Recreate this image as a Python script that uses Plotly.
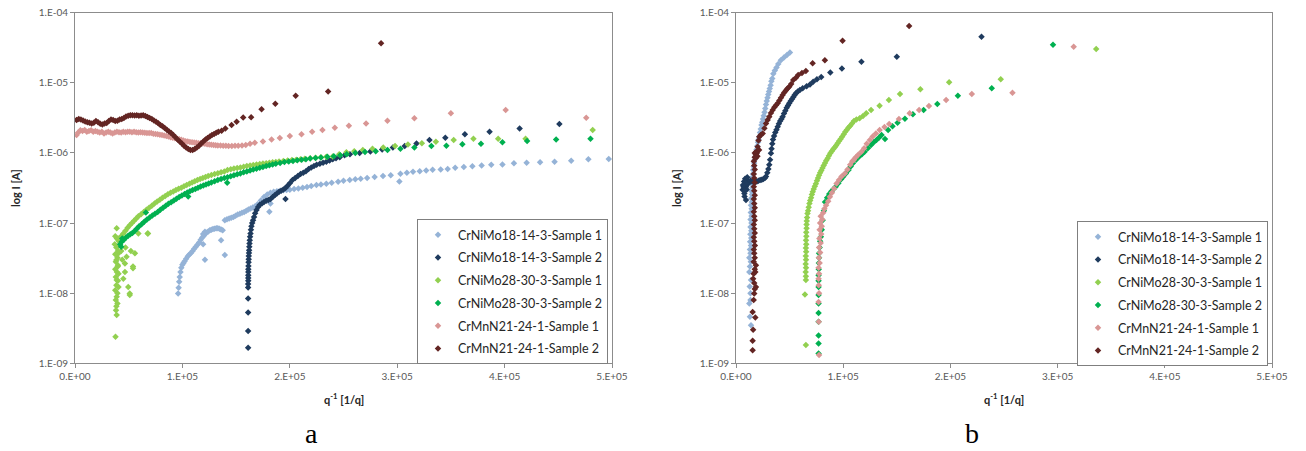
import plotly.graph_objects as go

W, H = 1306, 451
X_UNIT = 1e3  # x values in the point lists are given in thousands of 1/q


def fx(px):
    return px / W


def fy(py):
    return 1 - py / H


SERIES = ["CrNiMo18-14-3-Sample 1", "CrNiMo18-14-3-Sample 2",
          "CrNiMo28-30-3-Sample 1", "CrNiMo28-30-3-Sample 2",
          "CrMnN21-24-1-Sample 1", "CrMnN21-24-1-Sample 2"]
COLORS = ["#95B3D7", "#1F3B5E", "#92D050", "#00B050", "#D99694", "#632523"]

X_TICKS = [0, 1e5, 2e5, 3e5, 4e5, 5e5]
X_TICKTEXT = ["0.E+00", "1.E+05", "2.E+05", "3.E+05", "4.E+05", "5.E+05"]
Y_TICKS = [1e-9, 1e-8, 1e-7, 1e-6, 1e-5, 1e-4]
Y_TICKTEXT = ["1.E-09", "1.E-08", "1.E-07", "1.E-06", "1.E-05", "1.E-04"]

# ---------------- panel a ----------------
A_LB = [(96,9.9e-9),(96.5,1.2e-8),(97,1.45e-8),(97.5,1.7e-8),(98.2,2.0e-8),(99,2.3e-8),(100,2.55e-8),(101,2.7e-8),
        (102,2.85e-8),(103.5,3.1e-8),(105,3.35e-8),(106.5,3.55e-8),(108,3.75e-8),(109.5,4.0e-8),(111,4.3e-8),
        (112.5,4.6e-8),(114,4.9e-8),(115.5,5.3e-8),(117,5.8e-8),(118.5,6.2e-8),(119.3,5.0e-8),(119.3,7.0e-8),
        (120,6.6e-8),(121,7.5e-8),(122.5,7.3e-8),(124,7.6e-8),(125.5,7.9e-8),(127,8.0e-8),(128.5,8.2e-8),(130,8.3e-8),
        (131.5,8.4e-8),(133,8.4e-8),(134.5,8.3e-8),(136,8.1e-8),(137.5,7.9e-8),(139.5,1.1e-7),(141.5,1.13e-7),
        (143.5,1.16e-7),(145.5,1.19e-7),(147.5,1.22e-7),(149.5,1.27e-7),(151.5,1.32e-7),(153.5,1.36e-7),(155.5,1.4e-7),
        (157.5,1.44e-7),(159.5,1.5e-7),(161.5,1.56e-7),(163.5,1.61e-7),(165.5,1.67e-7),(167.5,1.72e-7),(170,1.85e-7),
        (173,2.1e-7),(176,2.35e-7),(179,2.55e-7),(182,2.7e-7),(185,2.8e-7),(188,2.85e-7),(191,2.9e-7),(194,2.93e-7),
        (197,2.95e-7),(200,2.98e-7),(204,3.05e-7),(208,3.12e-7),(212,3.2e-7),(216,3.28e-7),(220,3.38e-7),(224.8,3.48e-7),
        (229,3.55e-7),(234,3.65e-7),(239,3.75e-7),(245,3.88e-7),(250,4.0e-7),(255.8,4.1e-7),(261,4.2e-7),(266,4.3e-7),
        (272,4.4e-7),(279,4.52e-7),(286.8,4.68e-7),(294,4.8e-7),(303,5.05e-7),(309,5.2e-7),(314.7,5.4e-7),(321,5.5e-7),
        (327,5.62e-7),(333,5.75e-7),(340.5,5.8e-7),(347,5.9e-7),(354,6.15e-7),(362,6.3e-7),(370,6.44e-7),(378.6,6.6e-7),
        (387.6,6.8e-7),(398,6.85e-7),(408.7,7.1e-7),(420.5,7.25e-7),(433,7.35e-7),(446.5,7.5e-7),(462,7.75e-7),
        (478,8.1e-7),(497,8.2e-7),(302,3.9e-7),(121,3.0e-8),(139.5,3.5e-8),(136,5.7e-8),(181,1.45e-7),(182,1.9e-7)]

A_NV = [(161.2,1.66e-9),(161.2,2.88e-9),(161.2,5.3e-9),(161.2,8.4e-9),(161.2,1.21e-8),
        (161.2,1.35e-8),(161.3,1.5e-8),(161.3,1.65e-8),(161.3,1.8e-8),(161.4,2.0e-8),(161.4,2.2e-8),(161.5,2.45e-8),
        (161.6,2.75e-8),(161.7,3.05e-8),(161.8,3.4e-8),(162,3.75e-8),(162.1,4.1e-8),(162.3,4.6e-8),(162.5,5.1e-8),
        (162.7,5.7e-8),(163,6.4e-8),(163.4,7.1e-8),(163.8,8.0e-8),(164.3,9.0e-8),(165,1.0e-7),(165.8,1.1e-7),
        (166.7,1.22e-7),(167.7,1.38e-7),(169,1.53e-7),(170.5,1.7e-7),(172,1.82e-7),
        (174,1.9e-7),(176,2.0e-7),(178,2.08e-7),(180,2.13e-7),(182,2.2e-7),(184,2.35e-7),(186,2.5e-7),(188,2.65e-7),
        (190,2.8e-7),(192,2.9e-7),(194,3.0e-7),(196,3.15e-7),(198,3.4e-7),(200,3.7e-7),(202.5,4.1e-7),(205,4.4e-7),
        (207.5,4.7e-7),(210,5.0e-7),(212.5,5.2e-7),(215,5.5e-7),(217.5,5.9e-7),(220,6.2e-7),(222.5,6.5e-7),
        (225,6.8e-7),(228,7.0e-7),(231,7.25e-7),(234,7.5e-7),(237,7.8e-7),(240,8.1e-7),(243,8.4e-7),(246.5,8.7e-7),
        (251,9.3e-7),(256,9.6e-7),(265,1.0e-6),(275,1.05e-6),(286,1.12e-6),(296,1.2e-6),(307,1.26e-6),(318,1.36e-6),
        (330,1.53e-6),(344.8,1.65e-6),(363,1.84e-6),(386,2.0e-6),(414,2.24e-6),(451,2.58e-6),(196,2.2e-7)]

A_LG = [(37.7,2.4e-9),(38.8,4.9e-9),(38.2,5.7e-9),(39.5,7.1e-9),(38.5,6.5e-9),(38,8.0e-9),(38.8,8.9e-9),(39.5,1.0e-8),
        (37.5,1.1e-8),(40.5,1.23e-8),(38.5,1.3e-8),(40,1.5e-8),(38.8,1.54e-8),(38,1.7e-8),(40.5,1.9e-8),(39,2.0e-8),
        (37.5,2.2e-8),(39.8,2.4e-8),(40,2.5e-8),(38,2.8e-8),(38.5,2.97e-8),(39.5,3.2e-8),(37.5,3.6e-8),(40.5,3.7e-8),
        (40,4.0e-8),(38.5,4.5e-8),(39.8,4.6e-8),(37,5.0e-8),(41,5.5e-8),(40.5,5.7e-8),(39,6.0e-8),(37.5,6.5e-8),
        (38.8,8.4e-8),
        (46.5,2.0e-8),(49.6,1.23e-8),(51,9.9e-9),(54,2.4e-8),(55.8,3.7e-8),(59,7.1e-8),(68,7.1e-8),(46.5,2.66e-8),
        (51,9.4e-9),(54,2.26e-8),(44,3.0e-8),(47,4.5e-8),(52,4.0e-8),(45,1.6e-8),(43,4.0e-8),(48,3.3e-8),(67.6,7.1e-8),
        (41,6.0e-8),(43,6.5e-8),(45,7.1e-8),(47,7.8e-8),(49,8.6e-8),(51,9.3e-8),(53,1.0e-7),(55,1.08e-7),(57,1.16e-7),
        (59,1.25e-7),(61.5,1.34e-7),(64,1.44e-7),(66.5,1.55e-7),(69,1.65e-7),(71.5,1.77e-7),(74,1.9e-7),(76.5,2.03e-7),
        (79,2.15e-7),(81.5,2.3e-7),(84,2.43e-7),(86.5,2.58e-7),(89,2.7e-7),(91.5,2.83e-7),(94,2.95e-7),(96.5,3.08e-7),
        (99,3.2e-7),(101.5,3.35e-7),(104,3.5e-7),(106.5,3.65e-7),(109,3.8e-7),(111.5,3.95e-7),(114,4.1e-7),
        (116.5,4.25e-7),(119,4.4e-7),(121.5,4.55e-7),(124,4.7e-7),(127,4.85e-7),(130,5.0e-7),(133,5.15e-7),
        (136,5.3e-7),(139,5.45e-7),(142,5.7e-7),(145,5.85e-7),(148,6.0e-7),(151,6.1e-7),(154,6.2e-7),(157,6.35e-7),
        (160,6.5e-7),(163,6.6e-7),(166,6.75e-7),(169,6.85e-7),(172,6.95e-7),(175,7.05e-7),(178,7.15e-7),(181,7.25e-7),
        (184,7.35e-7),(187,7.45e-7),(190,7.55e-7),(194,7.7e-7),(198,7.8e-7),(202,7.9e-7),(206,8.0e-7),(210,8.1e-7),
        (214,8.25e-7),(219,8.4e-7),(224,8.55e-7),(229,8.7e-7),(234,8.8e-7),(240,8.9e-7),(246,9.6e-7),
        (252.7,1.02e-6),(260,1.06e-6),(268,1.1e-6),(277,1.15e-6),(287,1.2e-6),(298,1.26e-6),(310,1.32e-6),
        (323,1.38e-6),(336,1.44e-6),(352.6,1.53e-6),(371,1.6e-6),(394,1.6e-6),(419.5,1.6e-6),(482,2.12e-6)]

A_DG = [(42,5.0e-8),(43,4.6e-8),(44,6.0e-8),
        (43.5,5.4e-8),(45.5,5.8e-8),(47.5,6.2e-8),(49.5,6.6e-8),(51.5,6.9e-8),(53.5,7.2e-8),(55.5,7.7e-8),(57.5,8.3e-8),
        (59.5,8.9e-8),(62,9.6e-8),(64.5,1.04e-7),(67,1.12e-7),(69.5,1.2e-7),(72,1.28e-7),(74.5,1.36e-7),(77,1.44e-7),
        (79.5,1.55e-7),(82,1.66e-7),(84.5,1.77e-7),(87,1.88e-7),(89.5,1.98e-7),(92,2.1e-7),(94.5,2.22e-7),
        (97,2.35e-7),(99.5,2.48e-7),(102,2.6e-7),(104.5,2.72e-7),(107,2.84e-7),(109.5,2.95e-7),(112,3.07e-7),
        (114.5,3.2e-7),(117,3.32e-7),(119.5,3.43e-7),(122,3.55e-7),(124.5,3.67e-7),(127,3.8e-7),(130,3.95e-7),
        (133,4.1e-7),(136,4.25e-7),(139,4.38e-7),(142,4.5e-7),(145,4.65e-7),(148,4.8e-7),(151,4.95e-7),(154,5.1e-7),
        (157,5.3e-7),(160,5.45e-7),(163,5.6e-7),(166,5.8e-7),(169,5.95e-7),(172,6.15e-7),(175,6.3e-7),(178,6.5e-7),
        (181,6.65e-7),(184,6.85e-7),(187,7.0e-7),(191,7.2e-7),(195,7.4e-7),(199,7.55e-7),(203,7.7e-7),(207,7.85e-7),
        (211,8.0e-7),(215,8.15e-7),(219,8.3e-7),(224,8.45e-7),(229,8.6e-7),(235,8.8e-7),(241,9.0e-7),
        (247,9.3e-7),(253,9.6e-7),(261,1.0e-6),(270,1.03e-6),(280,1.06e-6),(291,1.1e-6),(303,1.15e-6),(316,1.2e-6),
        (331.8,1.26e-6),(345.8,1.27e-6),(360.7,1.33e-6),(378,1.35e-6),(398,1.42e-6),(421,1.48e-6),(448,1.56e-6),
        (480,1.6e-6),(66,1.42e-7),(105.4,2.4e-7),(141.7,3.76e-7)]

A_PK = [(1.5,1.8e-6),(3,1.95e-6),(5,2.1e-6),(7,2.05e-6),(9,2.12e-6),(11,2.0e-6),(13,2.05e-6),(15,2.1e-6),(17,2.0e-6),
        (19,2.05e-6),(21,2.0e-6),(23,1.95e-6),(25,2.0e-6),(27,1.9e-6),(29,1.95e-6),(31,2.0e-6),(33,1.95e-6),(35,1.9e-6),
        (37,1.95e-6),(39,2.0e-6),(41,1.98e-6),(43,1.95e-6),(45,2.0e-6),(47,1.98e-6),(49,2.0e-6),(51,2.0e-6),
        (53,1.98e-6),(55,2.0e-6),(57,1.97e-6),(59,1.95e-6),(61,1.97e-6),(63,1.95e-6),(65,1.94e-6),(67,1.92e-6),
        (69,1.93e-6),(71,1.92e-6),(73,1.88e-6),(75,1.86e-6),(77,1.84e-6),(79,1.82e-6),(81,1.8e-6),(83,1.78e-6),
        (85,1.75e-6),(87,1.72e-6),(89,1.68e-6),(91,1.65e-6),(93,1.62e-6),(95,1.6e-6),(97,1.57e-6),(99,1.54e-6),
        (101,1.5e-6),(103,1.47e-6),(105,1.45e-6),(107,1.43e-6),(109,1.42e-6),(111,1.41e-6),(113,1.4e-6),
        (115,1.38e-6),(117,1.37e-6),(119,1.36e-6),(121,1.35e-6),(123,1.33e-6),(125,1.32e-6),(127,1.31e-6),
        (129,1.3e-6),(131,1.29e-6),(133,1.28e-6),(135.5,1.28e-6),(138,1.27e-6),(140.5,1.27e-6),(143,1.26e-6),
        (146,1.26e-6),(149,1.27e-6),(152,1.27e-6),(155.5,1.28e-6),(159,1.3e-6),(163,1.35e-6),(167.4,1.4e-6),
        (175,1.45e-6),(183,1.56e-6),(190.7,1.64e-6),(200,1.74e-6),(210.9,1.84e-6),(220.8,2.0e-6),(230.4,2.12e-6),
        (241.9,2.29e-6),(255,2.45e-6),(271,2.64e-6),(290.9,2.88e-6),(316,3.12e-6),(350,3.67e-6),(401,4.09e-6),
        (476,3.18e-6)]

A_BR = [(1.5,2.95e-6),(3.5,3.05e-6),(5.5,3.0e-6),(7.5,2.9e-6),(9.5,2.8e-6),(11.5,2.75e-6),(13.5,2.7e-6),
        (15.5,2.62e-6),(17.5,2.7e-6),(19.5,2.85e-6),(21.5,2.75e-6),(23.5,2.6e-6),(25.5,2.55e-6),(27.5,2.62e-6),
        (29.5,2.68e-6),(31.5,2.85e-6),(33.5,3.0e-6),(35.5,2.95e-6),(37.5,2.85e-6),(39.5,2.88e-6),(41.5,3.0e-6),
        (43.5,3.05e-6),(45.5,3.15e-6),(47.5,3.3e-6),(49.5,3.38e-6),(51.5,3.45e-6),(53.5,3.45e-6),(55.5,3.42e-6),
        (57.5,3.45e-6),(59.5,3.4e-6),(61.5,3.42e-6),(63.5,3.45e-6),(65.5,3.35e-6),(67.5,3.25e-6),(69.5,3.15e-6),
        (71.5,3.05e-6),(73.5,2.9e-6),(75.5,2.78e-6),(77.5,2.65e-6),(79.5,2.5e-6),(81.5,2.4e-6),(83.5,2.27e-6),
        (85.5,2.15e-6),(87.5,2.02e-6),(89.5,1.92e-6),(91.5,1.8e-6),(93.5,1.68e-6),(95.5,1.55e-6),(97.5,1.45e-6),
        (99.5,1.36e-6),(101.5,1.27e-6),(103.5,1.2e-6),(105.5,1.14e-6),(107.5,1.1e-6),(109.5,1.1e-6),(111.5,1.14e-6),
        (113.5,1.2e-6),(115.5,1.27e-6),(117.5,1.36e-6),(119.5,1.45e-6),(121.5,1.55e-6),(123.5,1.63e-6),
        (125.5,1.72e-6),(127.5,1.8e-6),(129.5,1.87e-6),(131.5,1.94e-6),(133.5,2.0e-6),(136.5,2.08e-6),(140,2.24e-6),
        (145.8,2.5e-6),(150.5,2.79e-6),(156.6,3.2e-6),(164,3.22e-6),(173.7,4.2e-6),(186.5,5.05e-6),(205.5,6.55e-6),
        (235.7,7.5e-6),(285,3.66e-5)]

# ---------------- panel b ----------------
B_LB = [(14,3.5e-9),(13,4.6e-9),(12.4,7.1e-9),(13.5,8.0e-9),(13.5,1.0e-8),(12.8,1.25e-8),(14,1.54e-8),(12.4,2.0e-8),
        (13,2.4e-8),(13.8,2.8e-8),(12.4,3.2e-8),(13.5,3.7e-8),(13,4.2e-8),(14,4.8e-8),(13.2,5.4e-8),(14.2,6.1e-8),
        (13.4,6.9e-8),(14.3,7.8e-8),(13.5,8.8e-8),(14.4,1.0e-7),(13.6,1.12e-7),(14.5,1.26e-7),(13.8,1.42e-7),
        (14.6,1.6e-7),(14,1.8e-7),(14.8,2.0e-7),(14.2,2.25e-7),(15,2.55e-7),(14.5,2.85e-7),(15.2,3.2e-7),(14.8,3.6e-7),
        (15.5,4.0e-7),(15.2,4.5e-7),(15.8,5.0e-7),(16,5.7e-7),(16.5,6.4e-7),(17,7.2e-7),(17.5,8.0e-7),(18,8.9e-7),
        (18.6,9.9e-7),(19.2,1.12e-6),(19.8,1.26e-6),(20.5,1.42e-6),(21.1,1.56e-6),(21.7,1.7e-6),(22.4,1.95e-6),
        (23.1,2.2e-6),(23.8,2.5e-6),(24.5,2.75e-6),(25.2,3.05e-6),(25.9,3.4e-6),(26.6,3.8e-6),(27.3,4.3e-6),
        (28,4.9e-6),(28.7,5.5e-6),(29.4,6.1e-6),(30.1,6.8e-6),(30.8,7.5e-6),(31.5,8.3e-6),(32.3,9.2e-6),
        (33,1.05e-5),(33.8,1.15e-5),(34.8,1.35e-5),(36.2,1.5e-5),(37.8,1.65e-5),(39.4,1.85e-5),(41.8,2.1e-5),
        (44.7,2.3e-5),(47.5,2.5e-5),(50.3,2.7e-5)]

B_NV = [(6.2,2.98e-7),(7.8,2.65e-7),(9.3,2.13e-7),(8.0,2.4e-7),(7.0,3.3e-7),(9.3,3.3e-7),(10.9,4.1e-7),(8.5,4.3e-7),
        (10,3.0e-7),(11,3.6e-7),(12,3.8e-7),(7.5,3.9e-7),(9,3.7e-7),(10.5,4.5e-7),(8.2,2.9e-7),(6.5,3.5e-7),
        (13.5,4.0e-7),(15,3.9e-7),(16.5,3.85e-7),(18,3.85e-7),(19.5,3.9e-7),(21,4.0e-7),(22.5,4.1e-7),(24,4.15e-7),
        (25.5,4.25e-7),(27,4.4e-7),(28,4.6e-7),(29.2,5.2e-7),(30.2,5.9e-7),(31,6.8e-7),(31.8,8.0e-7),(32.6,9.9e-7),
        (33.2,1.15e-6),(33.8,1.35e-6),(34.5,1.55e-6),(35.5,1.75e-6),(36.6,1.95e-6),(37.8,2.15e-6),(38.9,2.36e-6),
        (40,2.6e-6),(41.2,2.85e-6),(42.4,3.05e-6),(43.5,3.28e-6),(44.8,3.65e-6),(46,4.0e-6),(47.3,4.4e-6),
        (48.5,4.75e-6),(49.7,5.1e-6),(51,5.5e-6),(52.3,5.9e-6),(53.5,6.3e-6),(54.7,6.7e-6),(55.9,7.1e-6),
        (57.6,7.5e-6),(59.6,7.9e-6),(62.2,8.4e-6),(65.9,8.9e-6),(69,9.5e-6),(72,1.04e-5),(75.5,1.12e-5),
        (79.5,1.21e-5),(88,1.4e-5),(98.8,1.6e-5),(117,2.0e-5),(150,2.36e-5),(229,4.55e-5)]

B_LG = [(65.2,1.82e-9),(64.3,9.6e-9),(65.2,1.54e-8),(65.2,1.75e-8),(65,2.0e-8),(65.3,2.3e-8),(65,2.6e-8),
        (65.3,3.0e-8),(65.1,3.4e-8),(65.4,3.9e-8),(65.2,4.4e-8),(65.5,5.0e-8),(65.3,5.7e-8),(65.6,6.5e-8),
        (65.5,7.4e-8),(65.8,8.4e-8),(65.8,9.5e-8),(66,1.07e-7),(66.3,1.2e-7),(66.7,1.37e-7),(67.2,1.5e-7),
        (67.8,1.68e-7),(68.5,1.9e-7),(69.2,2.1e-7),(70,2.3e-7),(70.8,2.55e-7),(71.6,2.8e-7),(72.5,3.05e-7),
        (73.5,3.35e-7),(74.5,3.65e-7),(75.5,4.0e-7),(76.5,4.4e-7),(77.5,4.8e-7),(78.5,5.2e-7),(79.6,5.6e-7),
        (80.7,6.1e-7),(81.8,6.6e-7),(83,7.2e-7),(84.2,7.8e-7),(85.5,8.4e-7),(86.7,9.1e-7),(88,9.9e-7),
        (89.3,1.06e-6),(90.6,1.13e-6),(92,1.2e-6),(93.4,1.28e-6),(94.8,1.38e-6),(96.2,1.48e-6),(97.6,1.58e-6),
        (99,1.7e-6),(100.5,1.84e-6),(102,2.0e-6),(103.5,2.15e-6),(105,2.3e-6),(106.6,2.45e-6),(108.2,2.62e-6),
        (110,2.85e-6),(112.3,3.0e-6),(115.3,3.12e-6),(118.5,3.35e-6),(121.5,3.67e-6),(126,4.09e-6),(133.9,4.71e-6),
        (142.6,5.69e-6),(153,6.92e-6),(172,8.07e-6),(198.8,1.02e-5),(247,1.12e-5),(336,3.03e-5)]

B_DG = [(77,1.38e-9),(77,1.92e-9),(77,2.5e-9),(77,3.9e-9),(77,5.2e-9),(77,7.1e-9),(77,9.4e-9),(77,1.23e-8),
        (77,1.5e-8),(77,1.8e-8),(77.2,2.2e-8),(77.3,2.7e-8),(77.5,3.2e-8),(77.5,3.7e-8),(78,4.5e-8),(78.5,5.5e-8),
        (79.2,6.4e-8),(80,8.0e-8),(80.8,1.1e-7),(82,1.5e-7),(83,2.0e-7),(85,2.3e-7),(87,2.6e-7),(89,2.85e-7),
        (91,3.05e-7),(93,3.3e-7),(95.5,3.7e-7),(98,4.2e-7),(100,4.58e-7),(102.5,5.1e-7),(105,5.7e-7),(107,6.4e-7),
        (109,7.1e-7),(112,8.0e-7),(115,8.9e-7),(117.5,9.6e-7),(120,1.04e-6),(123,1.17e-6),(126,1.3e-6),
        (128.5,1.42e-6),(131,1.53e-6),(133.5,1.66e-6),(135.8,1.8e-6),(139,1.58e-6),(141.9,2.12e-6),(146,2.4e-6),
        (150.7,2.7e-6),(157.6,3.08e-6),(165,3.55e-6),(175,4.09e-6),(187.8,4.99e-6),(207,6.55e-6),(238.6,8.35e-6),
        (295.7,3.5e-5)]

B_PK = [(77.5,1.31e-9),(77.2,3.9e-9),(77,7.5e-9),(77.5,1.0e-8),(77.2,1.3e-8),(77,1.6e-8),(77.5,1.9e-8),(77,2.3e-8),
        (78,2.7e-8),(77.3,3.2e-8),(78.5,3.8e-8),(77.5,4.5e-8),(79,5.2e-8),(77.8,6.0e-8),(79.5,7.0e-8),(78,8.0e-8),
        (80,9.0e-8),(78.5,1.0e-7),(80.5,1.12e-7),(79,1.25e-7),(81.4,1.4e-7),(82.5,1.6e-7),(84,1.8e-7),(86,2.05e-7),
        (87.6,2.37e-7),(89.5,2.7e-7),(91.5,3.1e-7),(93.8,3.68e-7),(96,4.1e-7),(98.5,4.6e-7),(101.5,5.1e-7),
        (104,5.8e-7),(106.5,6.8e-7),(108.5,7.6e-7),(110,8.0e-7),(111.5,8.6e-7),(114,9.4e-7),(117,1.04e-6),
        (119.5,1.17e-6),(122,1.35e-6),(124.9,1.53e-6),(127.5,1.72e-6),(130.5,1.9e-6),(134,2.12e-6),(138.5,2.35e-6),
        (142.9,2.58e-6),(152,3.05e-6),(162,3.67e-6),(170.8,4.09e-6),(180,4.67e-6),(196,5.69e-6),(220,6.92e-6),
        (257.9,7.23e-6),(315,3.27e-5)]

B_BR = [(15.5,1.54e-9),(15.5,2.1e-9),(16,3.0e-9),(18,4.5e-9),(15.5,5.4e-9),(16.5,8.0e-9),(17,9.9e-9),(17.5,1.15e-8),
        (18.6,1.23e-8),(17,1.4e-8),(16,1.6e-8),(16.5,1.9e-8),(18,2.0e-8),(17.5,2.2e-8),(18.6,2.5e-8),
        (16.5,2.8e-8),(17.5,3.2e-8),(17,3.7e-8),(16.6,4.2e-8),(17.6,4.8e-8),(17,5.5e-8),(16.6,6.3e-8),(17.5,7.2e-8),
        (17,8.3e-8),(16.6,9.5e-8),(17.5,1.1e-7),(17,1.25e-7),(16.6,1.45e-7),(17.5,1.65e-7),(17,1.9e-7),(16.6,2.2e-7),
        (17.5,2.5e-7),(17,2.9e-7),(16.6,3.3e-7),(17.5,3.8e-7),(17,4.4e-7),(16.6,5.0e-7),(17.5,5.8e-7),(17,6.6e-7),
        (16.6,7.6e-7),(17.5,8.7e-7),
        (17.5,1.0e-6),(18.5,9.5e-7),(19.5,1.0e-6),(19,1.05e-6),(18.5,8.5e-7),(20,9.0e-7),(21.5,1.1e-6),
        (20.2,1.23e-6),(21,1.5e-6),(21.7,1.7e-6),(23,1.8e-6),(24.9,1.9e-6),(26.5,2.25e-6),(28,2.64e-6),(29.5,2.95e-6),
        (31,3.28e-6),(32.6,3.7e-6),(34.2,4.1e-6),(35.8,4.5e-6),(37.3,4.8e-6),(38.9,5.1e-6),(40.4,5.6e-6),(42,6.1e-6),
        (43.5,6.7e-6),(45,7.3e-6),(46.5,7.8e-6),(48,8.3e-6),(49.7,8.8e-6),(51.5,9.6e-6),(53.4,1.1e-5),(55.9,1.18e-5),
        (58,1.29e-5),(61.5,1.38e-5),(65.2,1.47e-5),(71.5,1.9e-5),(82.9,2.1e-5),(99.4,3.98e-5),(161.5,6.46e-5)]

PANEL_A = [A_LB, A_NV, A_LG, A_DG, A_PK, A_BR]
PANEL_B = [B_LB, B_NV, B_LG, B_DG, B_PK, B_BR]

fig = go.Figure()
for data, xa, ya, leg in [(PANEL_A, "x", "y", "legend"), (PANEL_B, "x2", "y2", "legend2")]:
    for name, color, pts in zip(SERIES, COLORS, data):
        fig.add_trace(go.Scatter(
            x=[p[0] * X_UNIT for p in pts], y=[p[1] for p in pts],
            mode="markers", name=name, xaxis=xa, yaxis=ya, legend=leg,
            legendgroup=leg + name,
            marker=dict(symbol="diamond", size=5, color=color, line=dict(width=0)),
        ))

TICKFONT = dict(family="Lato", size=10, color="#595959")
AX = dict(showline=True, linecolor="#8c8c8c", linewidth=1, mirror=True, ticks="outside", ticklen=4,
          tickcolor="#8c8c8c", showgrid=False, zeroline=False, tickfont=TICKFONT, automargin=False,
          ticklabeloverflow="allow")

y_dom = [fy(363.3), fy(12.7)]
fig.update_layout(
    width=W, height=H, autosize=False,
    margin=dict(l=0, r=0, t=0, b=0, pad=0, autoexpand=False),
    paper_bgcolor="white", plot_bgcolor="white", showlegend=True,
    xaxis=dict(domain=[fx(75), fx(612)], range=[0, 5e5], tickvals=X_TICKS, ticktext=X_TICKTEXT, anchor="y", **AX),
    yaxis=dict(domain=y_dom, type="log", range=[-9, -4], tickvals=Y_TICKS, ticktext=Y_TICKTEXT, anchor="x", **AX),
    xaxis2=dict(domain=[fx(736), fx(1272)], range=[0, 5e5], tickvals=X_TICKS, ticktext=X_TICKTEXT, anchor="y2", **AX),
    yaxis2=dict(domain=y_dom, type="log", range=[-9, -4], tickvals=Y_TICKS, ticktext=Y_TICKTEXT, anchor="x2", **AX),
)

LEG = dict(xanchor="right", yanchor="top", bgcolor="white", bordercolor="#7f7f7f", borderwidth=1,
           font=dict(family="Lato", size=12.5, color="#262626"), traceorder="grouped", tracegroupgap=3.5)
fig.update_layout(
    legend=dict(x=fx(608), y=fy(219), **LEG),
    legend2=dict(x=fx(1268), y=fy(221), **LEG),
)

TITLE_FONT = dict(family="Lato", size=11, color="#262626")
ann = []
for ax_left, cx in [(75, 343.5), (736, 1004)]:
    ann.append(dict(text="<b>log I [A]</b>", x=fx(ax_left - 60), y=fy(188), xref="paper", yref="paper",
                    textangle=-90, showarrow=False, font=TITLE_FONT, xanchor="center", yanchor="middle"))
    ann.append(dict(text="<b>q<sup>-1</sup> [1/q]</b>", x=fx(cx), y=fy(398), xref="paper", yref="paper",
                    showarrow=False, font=TITLE_FONT, xanchor="center", yanchor="middle"))
for lab, cx in [("a", 311.7), ("b", 971.7)]:
    ann.append(dict(text=lab, x=fx(cx), y=fy(433), xref="paper", yref="paper", showarrow=False,
                    font=dict(family="Liberation Serif", size=28, color="black"),
                    xanchor="center", yanchor="middle"))
fig.update_layout(annotations=ann)

# remove the default 8 px page margin so the 1306x451 figure fills the window exactly
fig.write_html("out.html", config={"displayModeBar": False},
               post_script="document.body.style.margin='0px';")
